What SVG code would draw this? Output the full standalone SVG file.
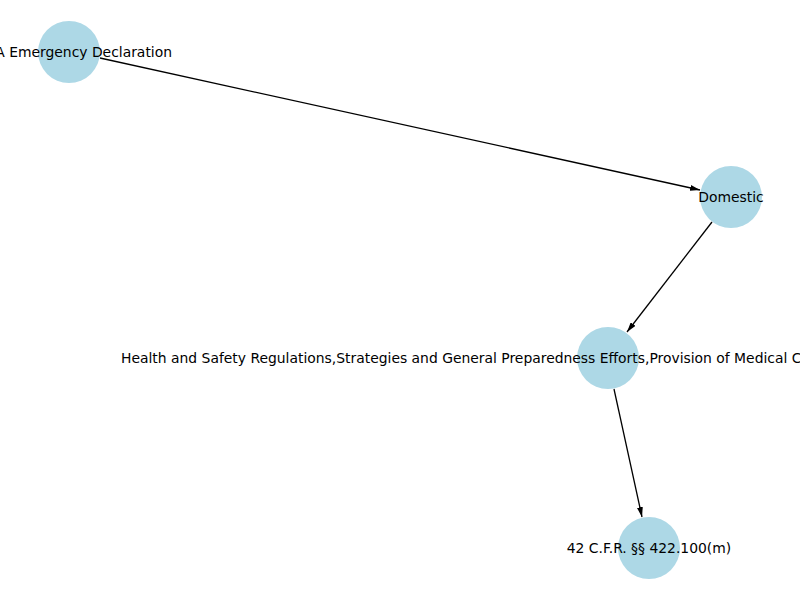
<svg xmlns="http://www.w3.org/2000/svg" width="800" height="600" viewBox="0 0 800 600">
<style>
.node{fill:#add8e6;}
.lbl{font-family:"DejaVu Sans",sans-serif;font-size:13.9px;fill:#000;}
.edge{stroke:#000;stroke-width:1.3;fill:none;}
</style>
<defs>
<marker id="arr" viewBox="0 0 10 6" refX="10" refY="3" markerWidth="10" markerHeight="6" markerUnits="userSpaceOnUse" orient="auto">
<path d="M0,0 L10,3 L0,6 Z" fill="#000"/>
</marker>
</defs>
<rect width="800" height="600" fill="#fff"/>
<g id="connectors">
<line class="edge" x1="100" y1="58" x2="700" y2="190" marker-end="url(#arr)"/>
<line class="edge" x1="712" y1="222" x2="627" y2="332" marker-end="url(#arr)"/>
<line class="edge" x1="614" y1="389" x2="642" y2="517" marker-end="url(#arr)"/>
</g>
<g id="node1">
<circle class="node" cx="69" cy="52" r="31"/>
<text class="lbl" x="172" y="56.5" text-anchor="end">A Emergency Declaration</text>
</g>
<g id="node2">
<circle class="node" cx="731" cy="197" r="31"/>
<text class="lbl" x="731" y="201.5" text-anchor="middle">Domestic</text>
</g>
<g id="node3">
<circle class="node" cx="608" cy="358" r="31"/>
<text class="lbl" x="121" y="362.5">Health and Safety Regulations,Strategies and General Preparedness Efforts,Provision of Medical C</text>
</g>
<g id="node4">
<circle class="node" cx="649" cy="548" r="31"/>
<text class="lbl" x="649" y="552.5" text-anchor="middle">42 C.F.R. §§ 422.100(m)</text>
</g>
</svg>
